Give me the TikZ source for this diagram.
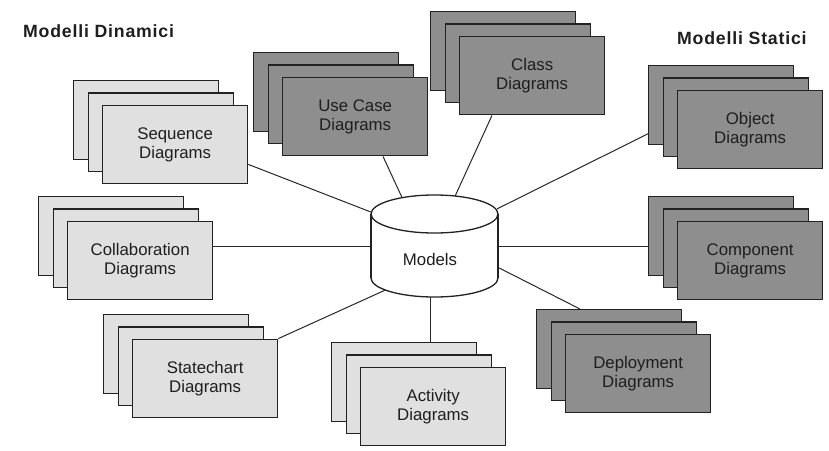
\documentclass[tikz,border=0pt]{standalone}
\usepackage{fontspec}
\setmainfont{Liberation Sans}
\newfontfamily\titlefont[LetterSpace=4.5]{Liberation Sans}
\usetikzlibrary{calc}

\definecolor{lightfill}{RGB}{224,224,224}
\definecolor{darkfill}{RGB}{142,142,142}
\definecolor{edge}{RGB}{34,34,34}
\definecolor{ink}{RGB}{30,30,30}
\definecolor{wirecol}{RGB}{40,40,40}

\tikzset{
  sheet/.style={draw=edge, line width=1.3pt, rectangle, minimum width=145pt,
    minimum height=78.5pt, inner sep=0pt, anchor=north west},
  lightsheet/.style={sheet, fill=lightfill},
  darksheet/.style={sheet, fill=darkfill},
  sheettext/.style={align=center, text=ink, font=\fontsize{16.8}{19}\selectfont},
  wire/.style={draw=wirecol, line width=1pt},
  cyl/.style={draw=edge, line width=1.3pt, fill=white},
  heading/.style={font=\titlefont\bfseries\fontsize{17.7}{20}\selectfont,
    text=ink, inner sep=0pt, anchor=base west}
}

% a stack of three sheets: name, x, y of the rear sheet, style, caption
\newcommand\sheetstack[5]{%
  \node[#4] (#1-back) at (#2,#3) {};
  \node[#4] (#1-mid) at ($(#2,#3)+(14.5,12.3)$) {};
  \node[#4, sheettext] (#1) at ($(#2,#3)+(29,24.6)$) {#5};
}

\begin{document}
\begin{tikzpicture}[x=1pt, y=-1pt]
  \useasboundingbox (0,0) rectangle (829,450);
  \fill[white] (0,0) rectangle (829,450);

  % headings
  \node[heading] (dynamic) at (23,37) {Modelli Dinamici};
  \node[heading] (static) at (677,44) {Modelli Statici};

  % dynamic models
  \sheetstack{seq}{73}{80}{lightsheet}{Sequence\\Diagrams}
  \sheetstack{collab}{38}{196}{lightsheet}{Collaboration\\Diagrams}
  \sheetstack{state}{103}{314}{lightsheet}{Statechart\\Diagrams}
  \sheetstack{activity}{331}{342}{lightsheet}{Activity\\Diagrams}

  % static models
  \sheetstack{usecase}{253}{52}{darksheet}{Use Case\\Diagrams}
  \sheetstack{class}{430}{11}{darksheet}{Class\\Diagrams}
  \sheetstack{object}{648}{65}{darksheet}{Object\\Diagrams}
  \sheetstack{component}{648}{196}{darksheet}{Component\\Diagrams}
  \sheetstack{deploy}{536}{309}{darksheet}{Deployment\\Diagrams}

  % frame of the central repository
  \node[minimum width=127pt, minimum height=102pt, inner sep=0pt] (models) at (434.5,246) {};

  % connectors
  \draw[wire] ($(seq.south east)+(0,-20)$) -- ($(models.west)+(0,-34)$);
  \draw[wire] ($(usecase.south west)+(101,0)$) -- ($(models.north)+(-32.5,2.7)$);
  \draw[wire] ($(class.south west)+(33,0)$) -- ($(models.north)+(20.5,1.5)$);
  \draw[wire] ($(object-back.south west)+(0,-11)$) -- ($(models.north east)+(-1,14)$);
  \draw[wire] ($(collab.east)+(0,-14)$) coordinate (c1) -- (c1 -| models.west);
  \draw[wire] ($(component-back.west)+(0,10.5)$) coordinate (c2) -- (c2 -| models.east);
  \draw[wire] (state.north east) -- ($(models.south)+(-49.5,-7)$);
  \draw[wire] ($(activity-back.north west)+(99,0)$) coordinate (c3) -- (c3 |- models.south);
  \draw[wire] ($(models.east)+(1,22)$) -- ($(deploy-back.north west)+(44,0)$);

  % repository cylinder
  \draw[cyl] (434.5,278) ellipse [x radius=63.5, y radius=19];
  \fill[white] (371,214) rectangle (498,278);
  \draw[draw=edge, line width=1.3pt] (371,214) -- (371,278) (498,214) -- (498,278);
  \draw[cyl] (434.5,214) ellipse [x radius=63.5, y radius=19];
  \node[sheettext] (modelstext) at (430,259) {Models};
\end{tikzpicture}
\end{document}
